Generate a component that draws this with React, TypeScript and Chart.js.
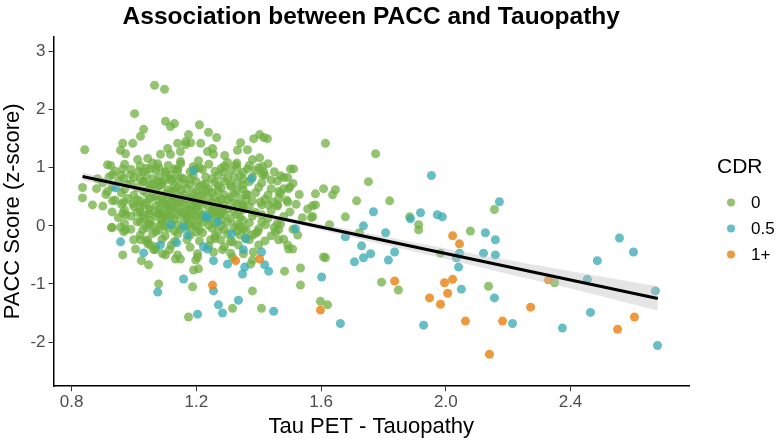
import React, { useEffect, useRef } from "react";
import { Chart, registerables } from "chart.js";

Chart.register(...registerables);

// ---------- data ----------
const chartTitle = "Association between PACC and Tauopathy";
const xTitle = "Tau PET - Tauopathy";
const yTitle = "PACC Score (z-score)";
const legendTitle = "CDR";
const legendLabels = ["0", "0.5", "1+"];

const xTicks = [0.8, 1.2, 1.6, 2.0, 2.4];
const yTicks = [-2, -1, 0, 1, 2, 3];
const xRange = [0.742, 2.78];
const yRange = [-2.76, 3.26];

// regression fit
const fitX = [0.835, 2.68];
const fitY = [0.85, -1.25];
// confidence band
const bandX = [0.835, 1.0, 1.2, 1.4, 1.6, 1.8, 2.0, 2.2, 2.4, 2.68];
const bandUpper = [0.92, 0.71, 0.47, 0.24, 0.03, -0.18, -0.39, -0.59, -0.78, -1.04];
const bandLower = [0.78, 0.61, 0.4, 0.17, -0.07, -0.32, -0.57, -0.83, -1.08, -1.46];

// CDR 0 (green)
const cdr0Points: [number, number][] = [
  [1.066, 2.42], [1.098, 2.35], [1.002, 1.93], [0.842, 1.31], [1.101, 1.8], [1.13, 1.76], [1.117, 1.71],
  [1.21, 1.74], [1.031, 1.66], [1.021, 1.54], [1.175, 1.57], [1.239, 1.61], [1.265, 1.52], [1.403, 1.57],
  [1.416, 1.52], [1.428, 1.5], [1.384, 1.5], [1.342, 1.43], [1.332, 1.3], [1.364, 1.31], [1.403, 1.17],
  [1.38, 1.14], [0.964, 1.42], [0.996, 1.42], [0.957, 1.3], [0.973, 1.24], [0.915, 1.05], [0.925, 1.04],
  [0.931, 0.88], [0.835, 0.66], [0.835, 0.48], [0.867, 0.36], [1.47, 0.86], [1.502, 0.98], [1.512, 0.98],
  [1.496, 0.64], [1.464, 0.47], [1.445, 0.41],
  [1.412, 1.02], [1.326, 1.05], [1.291, 1.21], [1.3, 1.09], [1.255, 1.23], [1.214, 1.42], [1.182, 1.43],
  [1.236, 1.28], [1.252, 1.33], [1.166, 1.4], [1.493, 0.83], [1.412, 0.88], [1.416, 0.93], [1.4, 1.0],
  [1.364, 0.98], [1.32, 0.85], [1.287, 0.93], [1.207, 1.12], [1.198, 0.98], [1.149, 1.11],
  [0.883, 0.81], [0.964, 0.98], [0.967, 0.81], [0.989, 0.88], [1.012, 1.14], [1.015, 0.93], [1.044, 1.16],
  [1.053, 0.98], [1.085, 1.23], [1.076, 1.07], [1.108, 1.33], [1.117, 1.23], [1.14, 1.42], [1.149, 1.28],
  [1.166, 1.45], [1.101, 0.93], [1.14, 0.98], [0.98, 0.71], [1.031, 0.76], [1.076, 0.76], [1.117, 0.81],
  [1.159, 0.81],
  [1.614, 1.42], [1.775, 1.24], [1.752, 0.76], [1.608, 0.64], [1.582, 0.55], [1.646, 0.62], [1.637, 0.535],
  [1.573, 0.345], [1.714, 0.43], [1.82, 0.43], [1.569, 0.14], [1.678, 0.155], [1.627, 0.02], [1.884, 0.155],
  [1.913, 0.02], [1.913, -0.07], [1.723, -0.12], [2.079, -0.09], [2.156, 0.28], [1.983, -0.47],
  [1.608, -0.535], [1.614, -0.55], [1.794, -0.97], [1.848, -1.105], [1.598, -1.3], [1.621, -1.36],
  [2.137, -1.04], [2.349, -0.98], [1.534, -0.725], [1.534, -1.02],
  [1.48, 0.64], [1.464, 0.59], [1.461, 0.36], [1.432, 0.36], [1.493, 0.41], [1.557, 0.29], [1.47, 0.03],
  [1.454, -0.1], [1.464, -0.24], [1.493, -0.33], [1.496, -0.4], [1.525, -0.16], [1.422, 0.02], [1.397, -0.1],
  [1.38, -0.16], [1.351, -0.05], [1.358, -0.22], [1.335, -0.33], [1.351, -0.48], [1.38, -0.59], [1.374, -0.66],
  [1.284, -0.41], [1.255, -0.45], [1.204, -0.48], [1.207, -0.74], [1.191, -0.76], [1.188, -1.05], [1.38, -1.12],
  [1.483, -0.78], [1.364, 0.54], [1.406, 0.41], [1.348, 0.36], [1.278, 0.24], [1.246, -0.24], [1.278, -0.24],
  [1.316, -0.28], [0.93, -0.03], [0.964, -0.5], [1.024, -0.6], [1.047, -0.67], [1.079, -1.0], [1.175, -1.57],
  [1.316, -1.42], [1.409, -1.42], [1.31, -0.47], [1.316, -0.54], [1.383, -0.45], [1.464, -0.07], [1.509, -0.4],
  [1.573, 0.16], [1.582, 0.36], [1.198, -0.59], [1.204, -0.54], [1.149, -0.57], [1.14, -0.5], [1.101, -0.5],
  [1.114, -0.41], [1.069, -0.41], [0.999, -0.24], [1.005, -0.4], [0.967, -0.1], [0.957, -0.02], [1.028, -0.07],
  [1.044, -0.24], [1.053, -0.33], [0.915, 0.59], [0.931, 0.43], [0.967, 0.41], [0.996, 0.38], [0.964, 0.22],
  [0.973, 0.19], [0.928, -0.03], [0.973, -0.07], [1.021, -0.24], [1.044, -0.31], [1.063, -0.41], [1.092, -0.48],
  [1.133, -0.57], [1.021, 0.07], [1.047, 0.03], [1.021, 0.24], [1.076, 0.21], [1.085, 0.02], [1.111, 0.16],
  [0.97, 1.06], [1.02, 1.03], [1.06, 1.08], [1.11, 1.04], [1.15, 1.07], [1.19, 1.02], [1.24, 1.06], [1.29, 1.03],
  [1.33, 1.08], [1.37, 1.04], [1.43, 1.07],
  [0.94, 0.94], [0.99, 0.97], [1.03, 0.93], [1.07, 0.96], [1.1, 0.92], [1.14, 0.95], [1.18, 0.93], [1.22, 0.97],
  [1.26, 0.94], [1.31, 0.96], [1.35, 0.92], [1.39, 0.95], [1.45, 0.93],
  [0.92, 0.84], [0.96, 0.87], [1.0, 0.83], [1.04, 0.86], [1.08, 0.84], [1.12, 0.88], [1.15, 0.83], [1.19, 0.86],
  [1.23, 0.84], [1.27, 0.87], [1.3, 0.82], [1.34, 0.86], [1.38, 0.84], [1.42, 0.87], [1.48, 0.83],
  [0.9, 0.74], [0.95, 0.77], [0.99, 0.73], [1.03, 0.76], [1.06, 0.72], [1.09, 0.75], [1.12, 0.78], [1.16, 0.73],
  [1.2, 0.76], [1.23, 0.72], [1.26, 0.75], [1.29, 0.77], [1.33, 0.73], [1.37, 0.76], [1.41, 0.74], [1.46, 0.77],
  [1.51, 0.73],
  [0.88, 0.64], [0.93, 0.67], [0.97, 0.63], [1.01, 0.66], [1.05, 0.64], [1.08, 0.68], [1.11, 0.62], [1.14, 0.66],
  [1.17, 0.64], [1.21, 0.67], [1.24, 0.63], [1.28, 0.65], [1.31, 0.68], [1.35, 0.63], [1.4, 0.66], [1.44, 0.64],
  [1.5, 0.67],
  [0.91, 0.54], [0.96, 0.57], [1.0, 0.53], [1.04, 0.56], [1.07, 0.52], [1.1, 0.55], [1.13, 0.58], [1.16, 0.53],
  [1.19, 0.56], [1.22, 0.54], [1.25, 0.57], [1.29, 0.53], [1.32, 0.56], [1.36, 0.54], [1.39, 0.57], [1.43, 0.53],
  [1.47, 0.56], [1.53, 0.54],
  [0.94, 0.44], [0.98, 0.47], [1.02, 0.43], [1.05, 0.46], [1.08, 0.44], [1.11, 0.48], [1.14, 0.43], [1.17, 0.46],
  [1.2, 0.44], [1.24, 0.47], [1.27, 0.42], [1.3, 0.45], [1.34, 0.47], [1.38, 0.43], [1.42, 0.46], [1.49, 0.44],
  [0.9, 0.34], [0.96, 0.37], [1.0, 0.33], [1.03, 0.36], [1.07, 0.34], [1.1, 0.38], [1.13, 0.33], [1.16, 0.36],
  [1.19, 0.34], [1.22, 0.37], [1.26, 0.32], [1.29, 0.35], [1.33, 0.37], [1.37, 0.33], [1.41, 0.36], [1.46, 0.34],
  [1.52, 0.37],
  [0.93, 0.24], [0.97, 0.27], [1.01, 0.23], [1.05, 0.26], [1.09, 0.24], [1.12, 0.28], [1.15, 0.23], [1.18, 0.26],
  [1.21, 0.24], [1.25, 0.27], [1.28, 0.22], [1.32, 0.25], [1.35, 0.28], [1.39, 0.23], [1.44, 0.26], [1.5, 0.24],
  [0.95, 0.14], [0.99, 0.17], [1.03, 0.13], [1.07, 0.16], [1.1, 0.14], [1.14, 0.18], [1.17, 0.13], [1.2, 0.16],
  [1.23, 0.14], [1.27, 0.17], [1.31, 0.12], [1.34, 0.15], [1.38, 0.17], [1.43, 0.13], [1.48, 0.16], [1.54, 0.14],
  [0.97, 0.04], [1.01, 0.07], [1.05, 0.03], [1.09, 0.06], [1.12, 0.04], [1.16, 0.08], [1.19, 0.03], [1.22, 0.06],
  [1.26, 0.04], [1.3, 0.07], [1.33, 0.02], [1.37, 0.05], [1.41, 0.07], [1.46, 0.04],
  [0.99, -0.06], [1.04, -0.03], [1.08, -0.07], [1.11, -0.04], [1.15, -0.06], [1.18, -0.02], [1.21, -0.07],
  [1.25, -0.04], [1.29, -0.06], [1.32, -0.03], [1.36, -0.08], [1.4, -0.05], [1.45, -0.03], [1.51, -0.06],
  [1.02, -0.16], [1.06, -0.13], [1.1, -0.17], [1.14, -0.14], [1.18, -0.16], [1.22, -0.12], [1.26, -0.17],
  [1.3, -0.14], [1.34, -0.16], [1.39, -0.13], [1.44, -0.17],
  [1.04, -0.26], [1.09, -0.23], [1.13, -0.27], [1.17, -0.24], [1.21, -0.26], [1.26, -0.22], [1.31, -0.27],
  [1.37, -0.24], [1.42, -0.26], [1.48, -0.23],
  [1.07, -0.36], [1.12, -0.33], [1.18, -0.37], [1.24, -0.34], [1.29, -0.36], [1.4, -0.33],
  [1.05, 0.7], [1.09, 0.71], [1.13, 0.69], [1.18, 0.71], [1.22, 0.7], [1.27, 0.69], [1.31, 0.71], [1.35, 0.7],
  [1.03, 0.6], [1.07, 0.61], [1.12, 0.59], [1.15, 0.61], [1.2, 0.6], [1.23, 0.59], [1.27, 0.61], [1.33, 0.6],
  [1.06, 0.5], [1.09, 0.49], [1.12, 0.51], [1.15, 0.5], [1.18, 0.49], [1.21, 0.51], [1.26, 0.5], [1.31, 0.49],
  [1.04, 0.4], [1.09, 0.39], [1.12, 0.41], [1.15, 0.4], [1.18, 0.39], [1.22, 0.41], [1.25, 0.4], [1.32, 0.39],
  [1.05, 0.3], [1.08, 0.29], [1.11, 0.31], [1.14, 0.3], [1.17, 0.29], [1.2, 0.31], [1.24, 0.3], [1.3, 0.29],
  [1.05, 0.2], [1.08, 0.21], [1.12, 0.19], [1.16, 0.21], [1.19, 0.2], [1.22, 0.19], [1.25, 0.21], [1.29, 0.2],
  [1.05, 0.1], [1.09, 0.09], [1.13, 0.11], [1.18, 0.1], [1.21, 0.09], [1.24, 0.11], [1.28, 0.1], [1.35, 0.09],
  [1.06, 0.0], [1.1, -0.01], [1.14, 0.01], [1.17, 0.0], [1.2, -0.01], [1.24, 0.01], [1.28, 0.0], [1.34, -0.01],
  [1.04, 0.99], [1.08, 1.0], [1.13, 0.98], [1.21, 1.0], [1.28, 0.99], [1.33, 1.0],
  [1.02, 0.8], [1.06, 0.81], [1.1, 0.79], [1.14, 0.81], [1.18, 0.8], [1.25, 0.81], [1.35, 0.8], [1.44, 0.79],
  [1.01, 0.45], [1.13, 0.46], [1.19, 0.45], [1.28, 0.46], [1.36, 0.45],
  [1.02, 0.32], [1.11, 0.35], [1.2, 0.35], [1.27, 0.33], [1.35, 0.34],
  [1.03, 0.18], [1.1, 0.2], [1.17, 0.17], [1.26, 0.18], [1.33, 0.2], [1.41, 0.19],
  [1.07, -0.1], [1.13, -0.09], [1.2, -0.11], [1.27, -0.1], [1.33, -0.09],
];

// CDR 0.5 (teal)
const cdr05Points: [number, number][] = [
  [0.941, 0.656], [0.957, -0.276], [1.031, -0.466], [1.085, -0.328], [1.076, -1.14], [1.159, -0.915],
  [1.204, -1.52], [1.255, -0.6], [1.255, -1.12], [1.271, -1.36], [1.284, -1.5], [1.335, -1.28], [1.3, -0.66],
  [1.313, -0.14], [1.348, -0.83], [1.355, -0.71], [1.351, -0.41], [1.358, -0.22], [1.409, -0.45],
  [1.419, -0.67], [1.432, -0.78], [1.448, -1.47], [1.518, -0.05], [1.117, 0.02], [1.172, -0.16],
  [1.236, -0.4], [1.268, 0.07], [1.191, 0.95], [1.377, 0.81], [1.159, -0.02], [1.236, 0.14], [1.223, -0.36],
  [1.137, -0.29], [1.23, 0.17],
  [1.954, 0.866], [2.172, 0.414], [1.768, 0.242], [1.919, 0.225], [1.973, 0.19], [1.989, 0.155], [1.887, 0.12],
  [1.736, 0.0], [1.807, -0.12], [1.678, -0.19], [1.73, -0.345], [1.836, -0.45], [1.759, -0.48], [1.736, -0.55],
  [1.707, -0.62], [1.816, -0.59], [2.127, -0.12], [2.159, -0.24], [2.121, -0.47], [2.159, -0.5], [2.044, -0.47],
  [2.034, -0.55], [2.041, -0.71], [1.602, -0.88], [2.05, -1.09], [2.156, -1.24], [1.662, -1.68], [1.929, -1.71],
  [2.214, -1.68], [2.557, -0.21], [2.602, -0.45], [2.486, -0.6], [2.454, -0.92], [2.672, -1.12], [2.464, -1.49],
  [2.374, -1.76], [2.679, -2.06],
];

// CDR 1+ (orange)
const cdr1Points: [number, number][] = [
  [1.326, -0.6], [1.403, -0.57], [1.252, -1.02], [1.598, -1.45], [2.022, -0.17], [2.044, -0.31],
  [1.836, -0.95], [1.996, -0.98], [2.022, -0.92], [2.006, -1.16], [1.948, -1.24], [1.983, -1.35],
  [2.063, -1.64], [2.182, -1.64], [2.14, -2.21], [2.329, -0.93], [2.272, -1.4], [2.605, -1.57], [2.551, -1.78],
];

const seriesColors = ["rgba(112,175,66,0.75)", "rgba(60,172,180,0.78)", "rgba(236,130,20,0.82)"];

const FONT = "'Liberation Sans', Arial, Helvetica, sans-serif";

export default function App() {
  const ref = useRef<HTMLCanvasElement>(null);

  useEffect(() => {
    document.body.style.margin = "0";
    const canvas = ref.current;
    if (!canvas) return;
    const toXY = (arr: [number, number][]) => arr.map(([x, y]) => ({ x, y }));

    const legendPlugin = {
      id: "cdrLegend",
      afterDraw(chart: any) {
        const { ctx, chartArea } = chart;
        const left = chartArea.right;
        const top = chartArea.top;
        ctx.save();
        ctx.fillStyle = "#000";
        ctx.textBaseline = "middle";
        ctx.textAlign = "left";
        ctx.font = `21px ${FONT}`;
        ctx.fillText(legendTitle, left + 28, top + 131);
        ctx.font = `17px ${FONT}`;
        legendLabels.forEach((lab, i) => {
          const cy = top + 166 + i * 26;
          ctx.beginPath();
          ctx.fillStyle = seriesColors[i];
          ctx.arc(left + 42, cy, 4, 0, Math.PI * 2);
          ctx.fill();
          ctx.fillStyle = "#000";
          ctx.fillText(lab, left + 62, cy + 1);
        });
        ctx.restore();
      },
    };

    const chart = new Chart(canvas, {
      type: "scatter",
      data: {
        datasets: [
          {
            label: legendLabels[0],
            data: toXY(cdr0Points),
            backgroundColor: seriesColors[0],
            borderWidth: 0,
            pointRadius: 4.5,
            order: 5,
          },
          {
            label: legendLabels[1],
            data: toXY(cdr05Points),
            backgroundColor: seriesColors[1],
            borderWidth: 0,
            pointRadius: 4.5,
            order: 4,
          },
          {
            label: legendLabels[2],
            data: toXY(cdr1Points),
            backgroundColor: seriesColors[2],
            borderWidth: 0,
            pointRadius: 4.5,
            order: 3,
          },
          {
            type: "line",
            label: "band upper",
            data: bandX.map((x, i) => ({ x, y: bandUpper[i] })),
            borderWidth: 0,
            borderColor: "rgba(0,0,0,0)",
            backgroundColor: "rgba(190,190,190,0.4)",
            pointRadius: 0,
            fill: "+1",
            tension: 0.3,
            order: 2,
          } as any,
          {
            type: "line",
            label: "band lower",
            data: bandX.map((x, i) => ({ x, y: bandLower[i] })),
            borderWidth: 0,
            borderColor: "rgba(0,0,0,0)",
            pointRadius: 0,
            fill: false,
            tension: 0.3,
            order: 2,
          } as any,
          {
            type: "line",
            label: "fit",
            data: fitX.map((x, i) => ({ x, y: fitY[i] })),
            borderColor: "#000",
            borderWidth: 3,
            pointRadius: 0,
            fill: false,
            order: 1,
          } as any,
        ],
      },
      options: {
        responsive: false,
        animation: false,
        devicePixelRatio: 1,
        events: [],
        layout: { padding: { left: 0, right: 91, top: 0, bottom: 0 } },
        plugins: {
          legend: { display: false },
          tooltip: { enabled: false },
          title: {
            display: true,
            text: chartTitle,
            fullSize: false,
            color: "#000",
            font: { family: FONT, size: 24.5, weight: "bold" },
            padding: { top: 3, bottom: 4 },
          },
        },
        scales: {
          x: {
            type: "linear",
            min: xRange[0],
            max: xRange[1],
            afterBuildTicks: (axis: any) => {
              axis.ticks = xTicks.map((v) => ({ value: v }));
            },
            ticks: {
              callback: (v: any) => Number(v).toFixed(1),
              color: "#4d4d4d",
              font: { family: FONT, size: 17 },
              padding: 1,
              autoSkip: false,
              maxRotation: 0,
            },
            grid: { drawOnChartArea: false, drawTicks: true, tickLength: 5, color: "#333", lineWidth: 1 },
            border: { display: true, color: "#000", width: 1.5 },
            title: {
              display: true,
              text: xTitle,
              color: "#000",
              font: { family: FONT, size: 22 },
              padding: { top: 0, bottom: 0 },
            },
          },
          y: {
            type: "linear",
            min: yRange[0],
            max: yRange[1],
            afterBuildTicks: (axis: any) => {
              axis.ticks = yTicks.map((v) => ({ value: v }));
            },
            ticks: {
              callback: (v: any) => String(v),
              color: "#4d4d4d",
              font: { family: FONT, size: 17 },
              padding: 3,
              autoSkip: false,
            },
            grid: { drawOnChartArea: false, drawTicks: true, tickLength: 5, color: "#333", lineWidth: 1 },
            border: { display: true, color: "#000", width: 1.5 },
            title: {
              display: true,
              text: yTitle,
              color: "#000",
              font: { family: FONT, size: 22 },
              padding: { top: 0, bottom: 1 },
            },
          },
        },
      },
      plugins: [legendPlugin],
    } as any);

    return () => chart.destroy();
  }, []);

  return (
    <div style={{ width: 780, height: 440 }}>
      <canvas ref={ref} width={780} height={440} style={{ display: "block" }} />
    </div>
  );
}
